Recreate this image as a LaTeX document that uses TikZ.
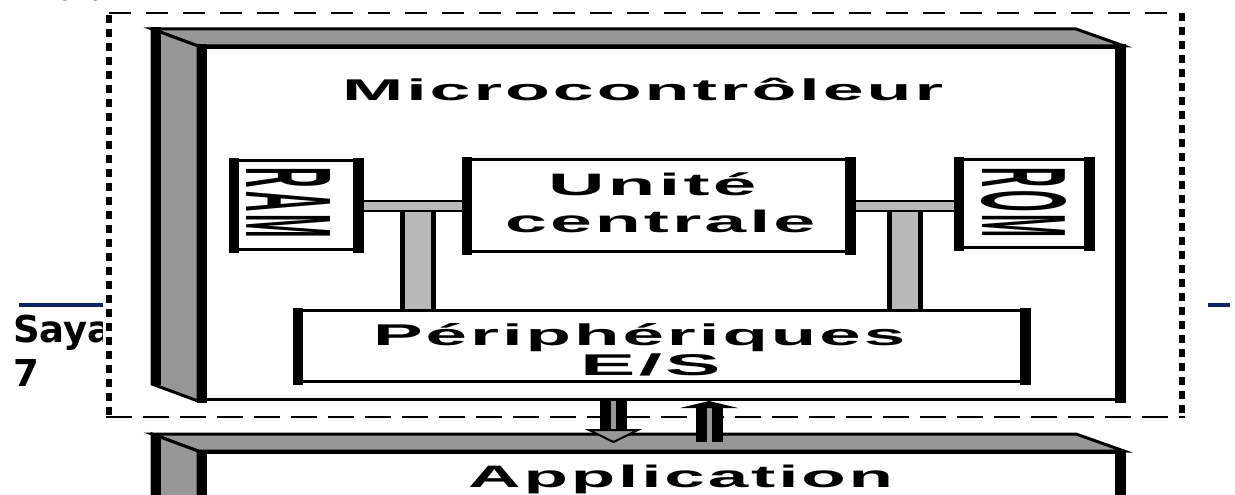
\documentclass[tikz,border=0pt]{standalone}
\usepackage{graphicx}
\usepackage{fontspec}
\setmainfont{Liberation Sans}
\newfontfamily\dvs{DejaVu Sans}
\newfontfamily\serifx{Liberation Serif}
\usetikzlibrary{calc}
\definecolor{backg}{RGB}{151,151,151}
\definecolor{barg}{RGB}{185,185,185}
\definecolor{navyline}{RGB}{12,36,98}
\newcommand\wtext[3]{\resizebox{#1pt}{\height}{\fontsize{#2}{#2}\selectfont\bfseries\addfontfeature{LetterSpace=4}#3\kern-0.04em}}
\newcommand\thicksides[1]{%
  \fill ([xshift=-1.5pt,yshift=1.5pt]#1.north west) rectangle ([xshift=9pt,yshift=-1.5pt]#1.south west);
  \fill ([xshift=1.5pt,yshift=1.5pt]#1.north east) rectangle ([xshift=-9pt,yshift=-1.5pt]#1.south east);}
\begin{document}
\begin{tikzpicture}[x=1pt,y=-1pt,
  sbox/.style={draw=black, fill=white, line width=3pt, inner sep=0pt},
  face/.style={fill=backg, draw=black, line width=3pt, line join=miter},
  hbar/.style={draw=black, line width=2pt, double=barg, double distance=8pt},
  vbar/.style={draw=black, line width=5pt, double=barg, double distance=26pt},
  shaft/.style={draw=black, line width=11pt, double=backg, double distance=5pt},
  txt/.style={inner sep=0pt, anchor=base west},
  blueline/.style={draw=navyline, line width=4pt}]
\useasboundingbox (0,0) rectangle (1235,495);
\fill[white] (0,0) rectangle (1235,495);

% background page texts
\node[txt, font={\serifx\fontsize{38}{38}\selectfont}] (part) at (10,0.5) {1 Part};
\node[txt, font={\dvs\bfseries\fontsize{37}{44}\selectfont}] (saya) at (13,342) {Saya};
\node[txt, font={\dvs\bfseries\fontsize{37}{44}\selectfont}] (seven) at (13,386) {7};
\coordinate (bl1) at (19,305); \coordinate (bl2) at (103,305);
\draw[blueline] (bl1) -- (bl2);
\coordinate (br1) at (1208,305); \coordinate (br2) at (1230,305);
\draw[blueline] (br1) -- (br2);

% dashed frame
\fill[white] (103,10) rectangle (1185,419);
\node[inner sep=0pt, minimum width=1072pt, minimum height=404pt] (frame) at (645.5,215) {};
\draw[line width=2.5pt, dash pattern=on 22pt off 15pt] (frame.north west) -- (frame.north east);
\draw[line width=2.5pt, dash pattern=on 26pt off 11pt] ([xshift=-3pt]frame.south west) -- ([xshift=3pt]frame.south east);
\draw[line width=6pt, dash pattern=on 8pt off 6pt] ([yshift=-2pt]frame.north west) -- ([yshift=-3pt]frame.south west |- 0,417);
\draw[line width=6pt, dash pattern=on 8pt off 6pt] ([yshift=0pt]frame.north east) -- (frame.south east |- 0,418);

% microcontroller 3D block
\node[sbox, minimum width=923pt, minimum height=352pt] (MC) at (661,223.5) {};
\filldraw[face] ($(MC.north west)+(-46,-17)$) -- ($(MC.north east)+(-48,-17)$) -- (MC.north east) -- (MC.north west) -- cycle;
\filldraw[face] ($(MC.north west)+(-46,-17)$) -- (MC.north west) -- (MC.south west) -- ($(MC.south west)+(-46,-17)$) -- cycle;
\fill ($(MC.north west)+(-47.5,-18.5)$) rectangle ($(MC.south west)+(-37.5,-16)$);
\node[sbox, minimum width=923pt, minimum height=352pt] at (661,223.5) {};
\thicksides{MC}
\node[txt] (title) at (342,100) {\wtext{598}{30}{Microcontrôleur}};

% bars
\coordinate (hy) at (0,206);
\coordinate (v1) at (418,206);
\coordinate (v2) at (904.5,206);

% inner boxes
\node[sbox, minimum width=129pt, minimum height=89pt] (RAM) at (296,205) {};
\node[sbox, minimum width=135pt, minimum height=88pt] (ROM) at (1024,203.5) {};
\node[sbox, minimum width=388pt, minimum height=92pt] (CPU) at (658.5,205.5) {};
\node[sbox, minimum width=732pt, minimum height=71pt] (PER) at (661.5,346) {};

\draw[vbar] (v1) -- (v1 |- PER.north);
\draw[vbar] (v2) -- (v2 |- PER.north);
\draw[hbar] (RAM.east |- hy) -- (CPU.west |- hy);
\draw[hbar] (CPU.east |- hy) -- (ROM.west |- hy);

\node[sbox, minimum width=129pt, minimum height=89pt] at (296,205) {};
\node[sbox, minimum width=135pt, minimum height=88pt] at (1024,203.5) {};
\node[sbox, minimum width=388pt, minimum height=92pt] at (658.5,205.5) {};
\node[sbox, minimum width=732pt, minimum height=71pt] at (661.5,346) {};
\thicksides{RAM}
\thicksides{ROM}
\thicksides{CPU}
\thicksides{PER}

\node[inner sep=0pt, rotate=-90] (ramt) at (289,201.5) {\resizebox{67pt}{84pt}{\fontsize{20}{20}\selectfont\bfseries\addfontfeature{LetterSpace=10}RAM\kern-0.1em}};
\node[inner sep=0pt, rotate=-90] (romt) at (1024,201) {\resizebox{67pt}{84pt}{\fontsize{20}{20}\selectfont\bfseries\addfontfeature{LetterSpace=10}ROM\kern-0.1em}};
\node[txt] (uc1) at (548,195) {\wtext{205}{31}{Unité}};
\node[txt] (uc2) at (505,232) {\wtext{307}{31}{centrale}};
\node[txt] (pe1) at (373,345) {\wtext{529}{30}{Périphériques}};
\node[txt] (pe2) at (580,375) {\wtext{137}{30}{E/S}};

% application 3D block
\node[sbox, minimum width=923pt, minimum height=140pt] (APP) at (661,522.5) {};
\filldraw[face] ($(APP.north west)+(-46,-17)$) -- ($(APP.north east)+(-48,-17)$) -- (APP.north east) -- (APP.north west) -- cycle;
\filldraw[face] ($(APP.north west)+(-46,-17)$) -- (APP.north west) -- (APP.south west) -- ($(APP.south west)+(-46,-17)$) -- cycle;
\fill ($(APP.north west)+(-47.5,-18.5)$) rectangle ($(APP.south west)+(-37.5,-16)$);
\node[sbox, minimum width=923pt, minimum height=140pt] at (661,522.5) {};
\thicksides{APP}
\node[txt] (appt) at (468,487) {\wtext{422}{31}{Application}};

% arrows between blocks
\coordinate (da) at (613.5,430);
\draw[shaft] (MC.south -| da) -- (da);
\filldraw[fill=backg, draw=black, line width=2pt, line join=miter] ([xshift=-24.5pt]da) -- ([xshift=24.5pt]da) -- ($(da)+(0,12)$) -- cycle;
\coordinate (ua) at (709,408);
\coordinate (ub) at (709,442);
\draw[shaft] (ub) -- (ua);
\fill ([xshift=-29pt]ua) -- ([xshift=29pt]ua) -- ($(ua)+(0,-7)$) -- cycle;
\end{tikzpicture}
\end{document}
